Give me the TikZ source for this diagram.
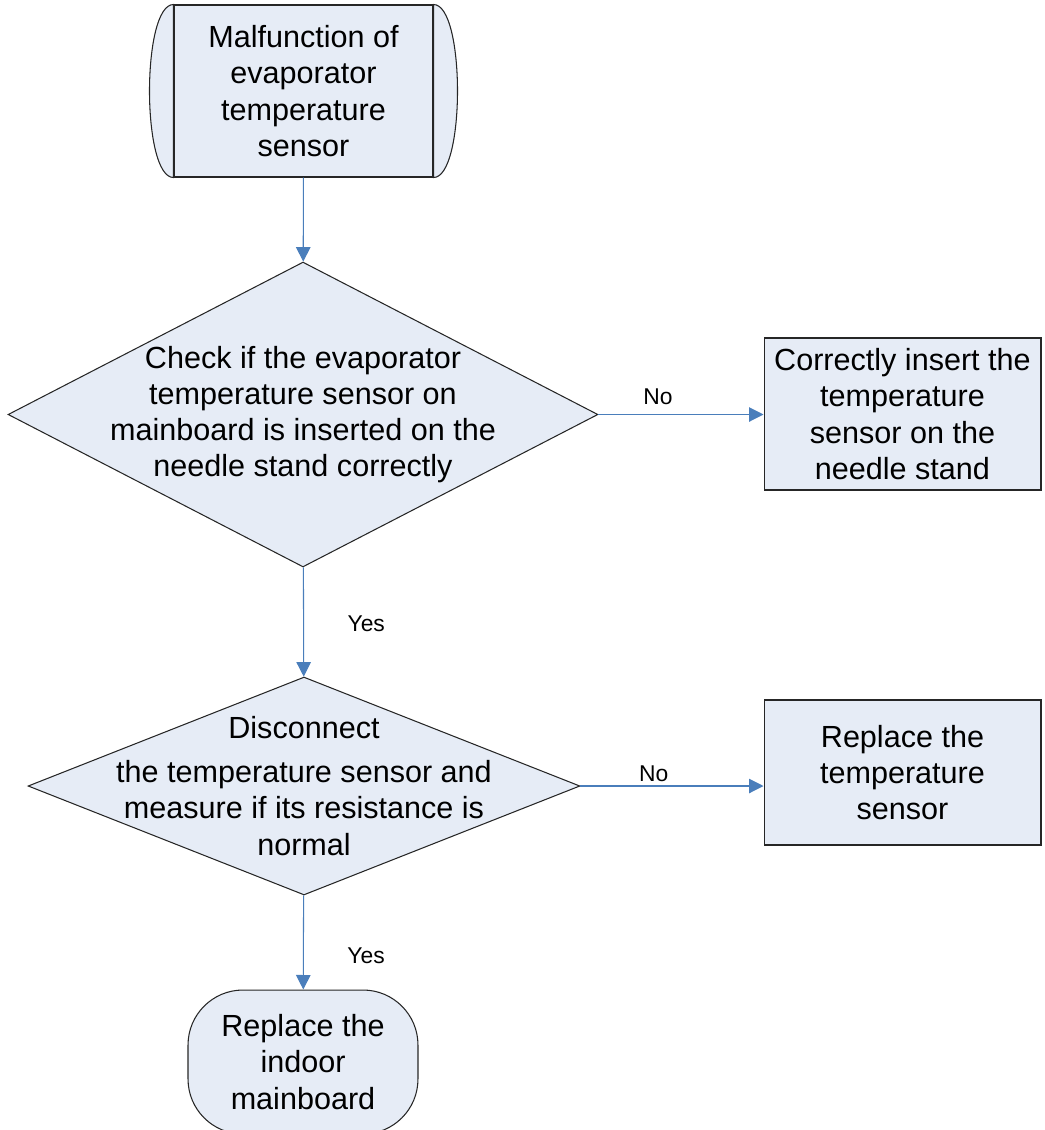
\documentclass[tikz,border=0pt]{standalone}
\usepackage{fontspec}
\setmainfont{Liberation Sans}
\usetikzlibrary{arrows.meta,positioning,shapes.geometric}
\definecolor{boxfill}{HTML}{E6ECF6}
\definecolor{linkblue}{HTML}{4A7EBB}

\begin{document}
\begin{tikzpicture}[
    x=0.02cm, y=-0.02cm,
    base/.style={draw=black!85, fill=boxfill, line width=0.6pt, align=center, inner sep=2pt, font=\fontsize{17.4}{20.6}\selectfont},
    decide/.style={base, diamond, inner sep=0pt, minimum width=#1},
    txt/.style={align=center, font=\fontsize{17.4}{20.6}\selectfont},
    lbl/.style={font=\fontsize{13}{15}\selectfont, inner sep=2pt},
    arr/.style={-{Triangle[length=2.9mm, width=2.9mm]}, draw=linkblue, fill=linkblue, line width=0.6pt}
]
\useasboundingbox (0,0) rectangle (1045,1130);
% start terminator with curved sides
\node[base, minimum width=5.18cm, minimum height=3.44cm] (start) at (303.5,91) {};
\draw[base] (start.north west) .. controls +(-32,0) and +(-32,0) .. (start.south west) -- cycle;
\draw[base] (start.north east) .. controls +(32,0) and +(32,0) .. (start.south east) -- cycle;
\node[txt] (startt) at (start) {Malfunction of\\ evaporator\\ temperature\\ sensor};
% first check
\node[decide=11.8cm, minimum height=6.1cm] (chk) at (303,414.5) {};
\node[txt] (chkt) at (chk) {Check if the evaporator\\ temperature sensor on\\ mainboard is inserted on the\\ needle stand correctly};
\node[base, minimum width=5.54cm, minimum height=3.04cm] (fix) at (902.5,414) {Correctly insert the\\ temperature\\ sensor on the\\ needle stand};
% second check
\node[decide=11.04cm, minimum height=4.36cm] (meas) at (304,786) {};
\node[txt] (meast) at (meas) {Disconnect\\[4.5pt] the temperature sensor and\\ measure if its resistance is\\ normal};
\node[base, minimum width=5.54cm, minimum height=2.9cm] (repl) at (902.5,772.5) {Replace the\\ temperature\\ sensor};
\node[base, rounded corners=1.1cm, minimum width=4.6cm, minimum height=2.88cm] (board) at (303,1062) {Replace the\\ indoor\\ mainboard};
\draw[arr] (start) -- (chk);
\draw[arr] (chk.east) -- node[lbl, pos=0.36, above=3pt] {No} (chk.east -| fix.west);
\draw[arr] (chk) -- node[lbl, pos=0.52, right=0.8cm] {Yes} (meas);
\draw[arr] (meas.east) -- node[lbl, pos=0.4, above] {No} (meas.east -| repl.west);
\draw[arr] (meas) -- node[lbl, pos=0.64, right=0.8cm] {Yes} (board);
\end{tikzpicture}
\end{document}
